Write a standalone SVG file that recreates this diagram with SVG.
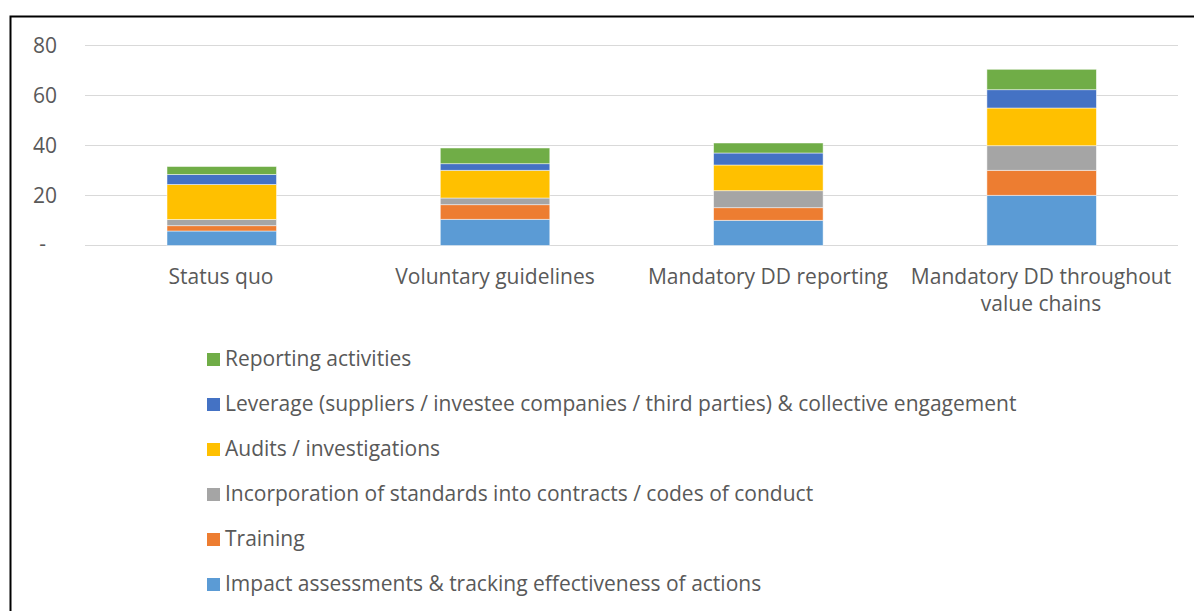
<svg xmlns="http://www.w3.org/2000/svg" width="1194" height="611" viewBox="0 0 1194 611">
<style>
text{font-family:"Open Sans","Liberation Sans",sans-serif;fill:#595959;font-size:21px}
.grid{stroke:#d9d9d9;stroke-width:1.2}
.seg rect{stroke:#ffffff;stroke-opacity:0.6;stroke-width:0.8}
.g{fill:#70AD47}.b{fill:#4472C4}.y{fill:#FFC000}.k{fill:#A5A5A5}.o{fill:#ED7D31}.l{fill:#5B9BD5}
.ax{text-anchor:end}
.cat{text-anchor:middle}
</style>
<rect x="0" y="0" width="1194" height="611" fill="#ffffff"/>
<path d="M10.5 612 V16.5 H1195" fill="none" stroke="#000" stroke-width="2"/>
<g id="grid">
<line class="grid" x1="85" y1="45.5" x2="1178" y2="45.5"/>
<line class="grid" x1="85" y1="95.5" x2="1178" y2="95.5"/>
<line class="grid" x1="85" y1="145.5" x2="1178" y2="145.5"/>
<line class="grid" x1="85" y1="195.5" x2="1178" y2="195.5"/>
<line class="grid" x1="85" y1="245.5" x2="1178" y2="245.5"/>
</g>
<g id="yaxis">
<text class="ax" x="57" y="53">80</text>
<text class="ax" x="57" y="103">60</text>
<text class="ax" x="57" y="153">40</text>
<text class="ax" x="57" y="203">20</text>
<text class="ax" x="46" y="251">-</text>
</g>
<g id="bar-status-quo" class="seg">
<rect class="l" x="167" y="231" width="109.5" height="14.5"/>
<rect class="o" x="167" y="225.7" width="109.5" height="5.3"/>
<rect class="k" x="167" y="219.5" width="109.5" height="6.2"/>
<rect class="y" x="167" y="184.5" width="109.5" height="35"/>
<rect class="b" x="167" y="174.5" width="109.5" height="10"/>
<rect class="g" x="167" y="166.5" width="109.5" height="8"/>
</g>
<g id="bar-voluntary" class="seg">
<rect class="l" x="440.3" y="219.3" width="109.5" height="26.2"/>
<rect class="o" x="440.3" y="204.7" width="109.5" height="14.6"/>
<rect class="k" x="440.3" y="198" width="109.5" height="6.7"/>
<rect class="y" x="440.3" y="170.3" width="109.5" height="27.7"/>
<rect class="b" x="440.3" y="163.7" width="109.5" height="6.6"/>
<rect class="g" x="440.3" y="148" width="109.5" height="15.7"/>
</g>
<g id="bar-mandatory-reporting" class="seg">
<rect class="l" x="713.6" y="220.3" width="109.5" height="25.2"/>
<rect class="o" x="713.6" y="207.7" width="109.5" height="12.6"/>
<rect class="k" x="713.6" y="190.7" width="109.5" height="17"/>
<rect class="y" x="713.6" y="165" width="109.5" height="25.7"/>
<rect class="b" x="713.6" y="153" width="109.5" height="12"/>
<rect class="g" x="713.6" y="143" width="109.5" height="10"/>
</g>
<g id="bar-mandatory-value-chains" class="seg">
<rect class="l" x="986.9" y="195.3" width="109.5" height="50.2"/>
<rect class="o" x="986.9" y="170.3" width="109.5" height="25"/>
<rect class="k" x="986.9" y="145.7" width="109.5" height="24.6"/>
<rect class="y" x="986.9" y="108" width="109.5" height="37.7"/>
<rect class="b" x="986.9" y="89.7" width="109.5" height="18.3"/>
<rect class="g" x="986.9" y="69.3" width="109.5" height="20.4"/>
</g>
<g id="categories">
<text class="cat" x="221" y="284">Status quo</text>
<text class="cat" x="495" y="284">Voluntary guidelines</text>
<text class="cat" x="768" y="284">Mandatory DD reporting</text>
<text class="cat" x="1041" y="284">Mandatory DD throughout</text>
<text class="cat" x="1041" y="311">value chains</text>
</g>
<g id="legend">
<g id="leg-reporting"><rect class="g" x="207" y="353" width="13" height="13"/><text x="225" y="366">Reporting activities</text></g>
<g id="leg-leverage"><rect class="b" x="207" y="398" width="13" height="13"/><text x="225" y="411">Leverage (suppliers / investee companies / third parties) &amp; collective engagement</text></g>
<g id="leg-audits"><rect class="y" x="207" y="443" width="13" height="13"/><text x="225" y="456">Audits / investigations</text></g>
<g id="leg-incorporation"><rect class="k" x="207" y="488" width="13" height="13"/><text x="225" y="501">Incorporation of standards into contracts / codes of conduct</text></g>
<g id="leg-training"><rect class="o" x="207" y="533" width="13" height="13"/><text x="225" y="546">Training</text></g>
<g id="leg-impact"><rect class="l" x="207" y="578" width="13" height="13"/><text x="225" y="591">Impact assessments &amp; tracking effectiveness of actions</text></g>
</g>
</svg>
